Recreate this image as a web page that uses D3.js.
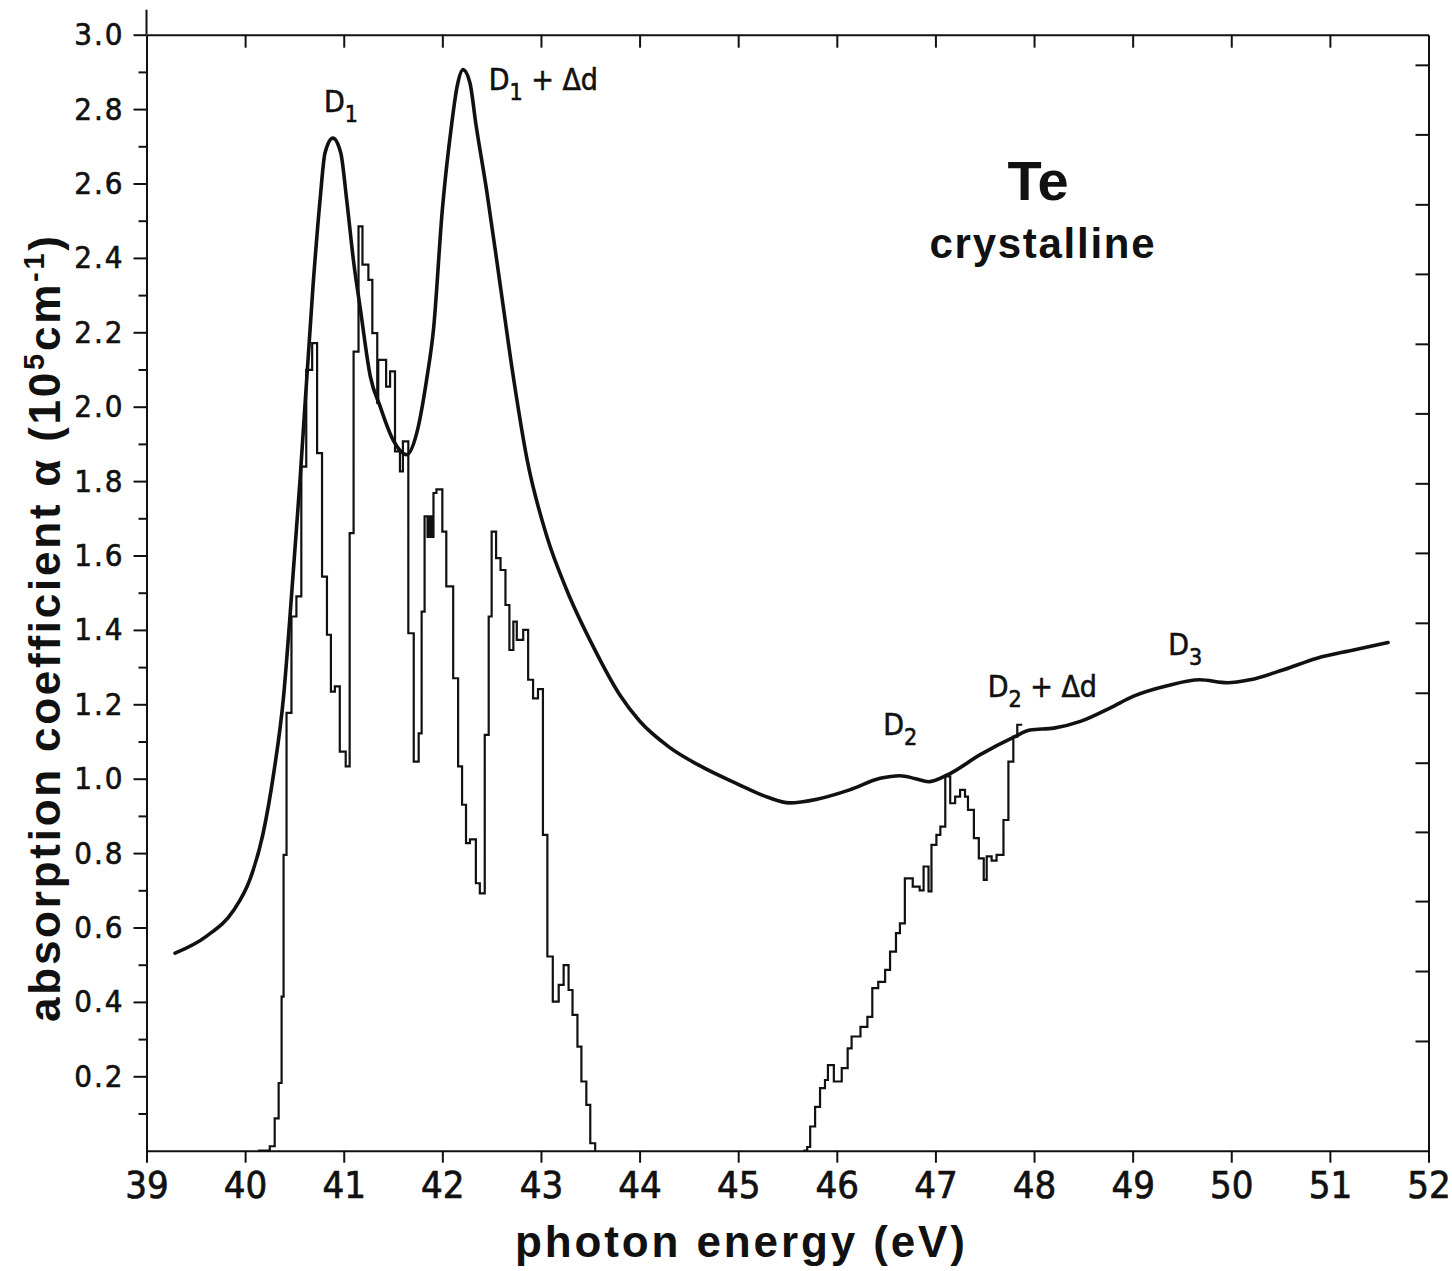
<!DOCTYPE html>
<html>
<head>
<meta charset="utf-8">
<script src="https://cdn.jsdelivr.net/npm/d3@7"></script>
<style>
  body { margin: 0; background: #fff; }
  text { fill: #111; }
</style>
</head>
<body>
<div id="chart"></div>
<script>
// ---- DATA ----
// smooth absorption curve: photon energy (eV) / alpha (10^5 cm^-1)
const curveE = [39.29, 39.61, 39.88, 40.05, 40.18, 40.29, 40.39, 40.45, 40.557, 40.69, 40.76, 40.81, 40.89, 40.97, 41.03,
  41.10, 41.17, 41.27, 41.37, 41.50, 41.64, 41.74, 41.84, 41.91, 42.00, 42.09, 42.15, 42.21, 42.28, 42.34, 42.45,
  42.58, 42.72, 42.86, 43.06, 43.26, 43.53, 43.80, 44.00, 44.30, 44.61, 45.00, 45.30, 45.52, 45.80, 46.13, 46.44,
  46.64, 46.80, 46.93, 47.12, 47.45, 47.79, 47.96, 48.20, 48.47, 48.77, 49.01, 49.35, 49.68, 49.96, 50.19, 50.53,
  50.87, 51.24, 51.59]
const curveA = [0.531, 0.577, 0.645, 0.730, 0.850, 1.015, 1.221, 1.418, 1.803, 2.330, 2.556, 2.682, 2.722, 2.682, 2.556,
  2.390, 2.260, 2.081, 2.000, 1.911, 1.871, 1.929, 2.072, 2.207, 2.530, 2.750, 2.861, 2.906, 2.870, 2.760, 2.580,
  2.340, 2.080, 1.857, 1.651, 1.508, 1.355, 1.225, 1.155, 1.085, 1.035, 0.985, 0.950, 0.935, 0.945, 0.970, 1.001,
  1.008, 1.000, 0.992, 1.010, 1.064, 1.111, 1.131, 1.136, 1.154, 1.190, 1.222, 1.250, 1.266, 1.258, 1.266, 1.293,
  1.324, 1.346, 1.366]

// step histogram, low-energy part (left edge of each step / value)
const histLeftE = [40.13, 40.25, 40.30, 40.34, 40.37, 40.39, 40.42, 40.47, 40.52, 40.57, 40.62, 40.68, 40.73, 40.78,
  40.83, 40.87, 40.91, 40.96, 41.02, 41.06, 41.10, 41.15, 41.19, 41.25, 41.29, 41.34, 41.35, 41.43, 41.47, 41.52,
  41.57, 41.60, 41.655, 41.71, 41.76, 41.79, 41.82, 41.85, 41.87, 41.89, 41.91, 41.94, 42.00, 42.04, 42.11, 42.16,
  42.20, 42.24, 42.28, 42.34, 42.38, 42.43, 42.47, 42.50, 42.545, 42.59, 42.64, 42.68, 42.72, 42.755, 42.82, 42.87,
  42.92, 42.97, 43.02, 43.065, 43.12, 43.18, 43.23, 43.28, 43.32, 43.37, 43.41, 43.46, 43.50, 43.55, 43.56]
const histLeftA = [0.000, 0.012, 0.087, 0.182, 0.414, 0.795, 1.177, 1.436, 1.490, 1.839, 2.099, 2.171, 1.875, 1.543,
  1.387, 1.234, 1.248, 1.073, 1.033, 1.660, 2.148, 2.485, 2.382, 2.341, 2.198, 2.010, 2.126, 2.054, 2.095, 1.880,
  1.826, 1.907, 1.391, 1.046, 1.122, 1.449, 1.705, 1.650, 1.705, 1.650, 1.768, 1.778, 1.664, 1.517, 1.270, 1.033,
  0.930, 0.827, 0.837, 0.719, 0.692, 1.118, 1.436, 1.664, 1.593, 1.561, 1.467, 1.346, 1.422, 1.373, 1.400, 1.266,
  1.216, 1.241, 0.849, 0.522, 0.401, 0.446, 0.499, 0.432, 0.365, 0.280, 0.186, 0.123, 0.020, 0.000, 0.000]

// step histogram, high-energy part
const histRightE = [45.66, 45.70, 45.73, 45.78, 45.83, 45.88, 45.91, 45.97, 46.05, 46.11, 46.15, 46.24, 46.31, 46.36,
  46.42, 46.49, 46.54, 46.60, 46.64, 46.69, 46.77, 46.84, 46.88, 46.93, 46.96, 47.01, 47.05, 47.10, 47.15, 47.20,
  47.25, 47.30, 47.33, 47.39, 47.44, 47.49, 47.52, 47.57, 47.62, 47.69, 47.74, 47.79, 47.83, 47.88]
const histRightA = [0.000, 0.010, 0.065, 0.118, 0.168, 0.190, 0.230, 0.186, 0.222, 0.275, 0.307, 0.333, 0.360, 0.437,
  0.454, 0.486, 0.535, 0.585, 0.611, 0.732, 0.710, 0.700, 0.764, 0.697, 0.822, 0.849, 0.871, 1.006, 0.934, 0.952,
  0.970, 0.952, 0.916, 0.840, 0.786, 0.728, 0.791, 0.780, 0.795, 0.889, 1.046, 1.113, 1.145, 1.145]

// axes
const xTicks = [39, 40, 41, 42, 43, 44, 45, 46, 47, 48, 49, 50, 51, 52]
const yMajor = [0.2, 0.4, 0.6, 0.8, 1.0, 1.2, 1.4, 1.6, 1.8, 2.0, 2.2, 2.4, 2.6, 2.8, 3.0]
const yMinor = [0.1, 0.3, 0.5, 0.7, 0.9, 1.1, 1.3, 1.5, 1.7, 1.9, 2.1, 2.3, 2.5, 2.7, 2.9]
const rightTicks = [0.295, 0.483, 0.671, 0.857, 1.043, 1.231, 1.419, 1.607, 1.794, 1.982, 2.169, 2.357, 2.544, 2.732, 2.919]

// peak labels: [text, subscript, rest, energy, alpha]
const peakLabels = [
  ["D", "1", "", 40.80, 2.793],
  ["D", "1", " + Δd", 42.47, 2.852],
  ["D", "2", "", 46.47, 1.118],
  ["D", "2", " + Δd", 47.53, 1.220],
  ["D", "3", "", 49.36, 1.333]
]

// ---- CHART ----
const width = 1452, height = 1271
const svg = d3.select("#chart").append("svg")
  .attr("width", width)
  .attr("height", height)
  .style("background", "#fff")

const xScale = d3.scaleLinear().domain([39, 52]).range([146.5, 1428.5])
const yScale = d3.scaleLinear().domain([0, 3]).range([1150.7, 34.7])

const tickFont = "'Liberation Sans Narrow', 'DejaVu Sans Condensed', sans-serif"
const titleFont = "'Liberation Sans', Arimo, sans-serif"

// bottom axis with labels
const xAxis = svg.append("g")
  .attr("transform", `translate(0, ${yScale(0)})`)
  .call(d3.axisBottom(xScale).tickValues(xTicks).tickSize(12).tickSizeOuter(0).tickPadding(8))
xAxis.selectAll("text").attr("font-size", 38).attr("font-family", tickFont)
  .attr("stroke", "#111").attr("stroke-width", 0.7)

// top axis, ticks pointing inward
svg.append("g")
  .attr("transform", `translate(0, ${yScale(3)})`)
  .call(d3.axisTop(xScale).tickValues(xTicks.slice(1, -1)).tickSize(-13).tickSizeOuter(0).tickFormat(""))

// left axis: major ticks + labels, minor ticks
const yAxis = svg.append("g")
  .attr("transform", `translate(${xScale(39)}, 0)`)
  .call(d3.axisLeft(yScale).tickValues(yMajor).tickSize(13).tickSizeOuter(0).tickPadding(9)
    .tickFormat(d3.format(".1f")))
yAxis.selectAll("text").attr("font-size", 31).attr("font-family", tickFont).attr("letter-spacing", 2)
  .attr("stroke", "#111").attr("stroke-width", 0.6)

svg.append("g")
  .attr("transform", `translate(${xScale(39)}, 0)`)
  .call(d3.axisLeft(yScale).tickValues(yMinor).tickSize(8).tickSizeOuter(0).tickFormat(""))
  .select(".domain").remove()

// right axis, inward ticks
svg.append("g")
  .attr("transform", `translate(${xScale(52)}, 0)`)
  .call(d3.axisRight(yScale).tickValues(rightTicks).tickSize(-13).tickSizeOuter(0).tickFormat(""))

// left spine sticks out above the frame a little
svg.append("line")
  .attr("x1", xScale(39)).attr("x2", xScale(39))
  .attr("y1", yScale(3) - 25).attr("y2", yScale(3))
  .attr("stroke", "#111")

svg.selectAll(".domain, .tick line").attr("stroke", "#111").attr("stroke-width", 2)
svg.selectAll("line").attr("stroke-width", 2)

// axis titles
svg.append("text")
  .attr("x", 740).attr("y", 1257)
  .attr("text-anchor", "middle")
  .attr("font-family", titleFont).attr("font-weight", "bold").attr("font-size", 44)
  .attr("textLength", 450).attr("lengthAdjust", "spacing")
  .text("photon energy (eV)")

const yTitle = svg.append("text")
  .attr("transform", "translate(60, 629) rotate(-90)")
  .attr("text-anchor", "middle")
  .attr("font-family", titleFont).attr("font-weight", "bold").attr("font-size", 44)
  .attr("textLength", 786).attr("lengthAdjust", "spacing")
yTitle.append("tspan").text("absorption coefficient α (10")
yTitle.append("tspan").attr("dy", -16).attr("font-size", 29).text("5")
yTitle.append("tspan").attr("dy", 16).text("cm")
yTitle.append("tspan").attr("dy", -16).attr("font-size", 29).text("-1")
yTitle.append("tspan").attr("dy", 16).text(")")

// sample label
svg.append("text")
  .attr("x", 1038).attr("y", 200)
  .attr("text-anchor", "middle")
  .attr("font-family", titleFont).attr("font-weight", "bold").attr("font-size", 56)
  .text("Te")
svg.append("text")
  .attr("x", 1042).attr("y", 258)
  .attr("text-anchor", "middle")
  .attr("font-family", titleFont).attr("font-weight", "bold").attr("font-size", 42)
  .attr("textLength", 225).attr("lengthAdjust", "spacing")
  .text("crystalline")

// DRAW STEP HISTOGRAM
const stepLine = d3.line()
  .x(d => xScale(d[0]))
  .y(d => yScale(d[1]))
  .curve(d3.curveStepAfter)

svg.append("path")
  .datum(d3.zip(histLeftE, histLeftA))
  .attr("d", stepLine)
  .attr("fill", "none").attr("stroke", "#111").attr("stroke-width", 2.2)

svg.append("path")
  .datum(d3.zip(histRightE, histRightA))
  .attr("d", stepLine)
  .attr("fill", "none").attr("stroke", "#111").attr("stroke-width", 2.2)

// DRAW SMOOTH CURVE
svg.append("path")
  .datum(d3.zip(curveE, curveA))
  .attr("d", d3.line()
    .x(d => xScale(d[0]))
    .y(d => yScale(d[1]))
    .curve(d3.curveMonotoneX))
  .attr("fill", "none").attr("stroke", "#111").attr("stroke-width", 3.6)
  .attr("stroke-linecap", "round")

// peak labels
const lab = svg.selectAll(".peak")
  .data(peakLabels)
  .join("text")
    .attr("class", "peak")
    .attr("x", d => xScale(d[3]))
    .attr("y", d => yScale(d[4]))
    .attr("font-family", tickFont).attr("font-size", 30)
    .attr("stroke", "#111").attr("stroke-width", 0.6)
lab.append("tspan").text(d => d[0])
lab.append("tspan").attr("dy", 10).attr("font-size", 23).text(d => d[1])
lab.append("tspan").attr("dy", -10).text(d => d[2])
</script>
</body>
</html>
